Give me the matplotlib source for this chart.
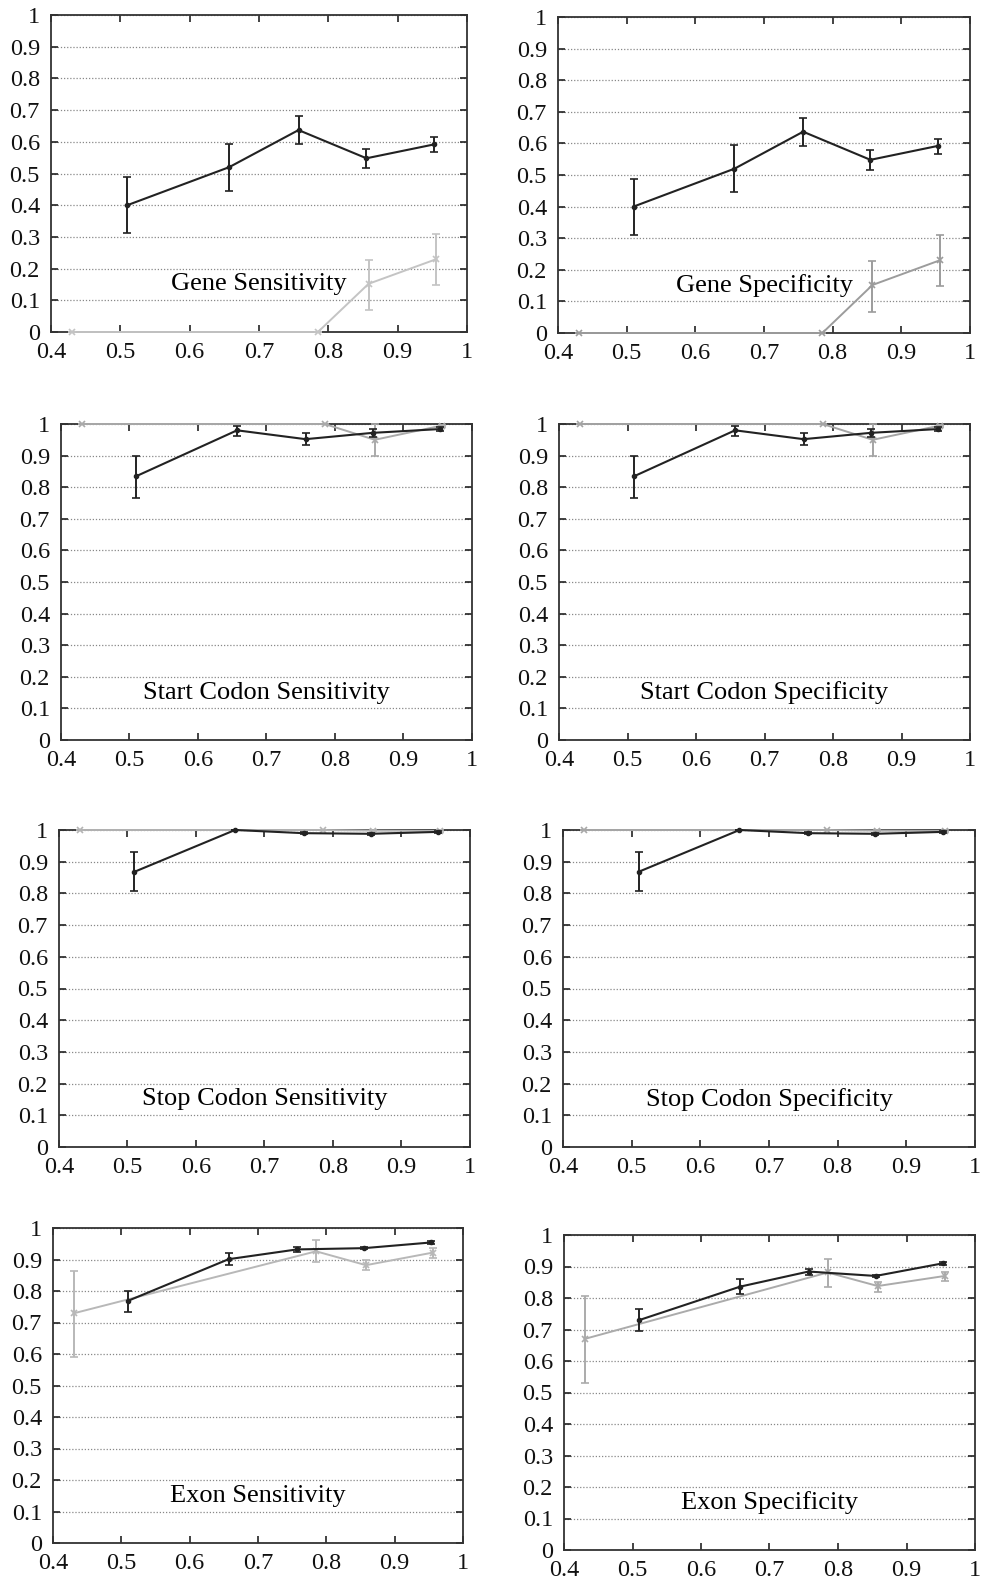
import matplotlib
matplotlib.use("Agg")
import matplotlib.pyplot as plt
from matplotlib.ticker import FuncFormatter

plt.rcParams['font.family'] = ['Liberation Serif', 'DejaVu Serif']

# x positions of the two series
x_black = [0.51, 0.657, 0.757, 0.855, 0.953]
x_gray = [0.43, 0.785, 0.858, 0.956]

# gene level
gene_black = [0.400, 0.520, 0.637, 0.548, 0.592]
gene_black_lo = [0.311, 0.445, 0.593, 0.516, 0.568]
gene_black_hi = [0.488, 0.594, 0.681, 0.578, 0.614]
gene_gray = [0.0, 0.0, 0.152, 0.230]
gene_gray_lo = [0.0, 0.0, 0.068, 0.148]
gene_gray_hi = [0.0, 0.0, 0.228, 0.310]

# start codon
start_black = [0.835, 0.980, 0.952, 0.972, 0.984]
start_black_lo = [0.765, 0.963, 0.932, 0.960, 0.978]
start_black_hi = [0.900, 0.993, 0.970, 0.985, 0.990]
start_gray = [1.0, 1.0, 0.950, 0.995]
start_gray_lo = [1.0, 1.0, 0.900, 0.992]
start_gray_hi = [1.0, 1.0, 1.000, 0.998]

# stop codon
stop_black = [0.868, 1.0, 0.990, 0.988, 0.994]
stop_black_lo = [0.807, 1.0, 0.986, 0.984, 0.991]
stop_black_hi = [0.930, 1.0, 0.994, 0.992, 0.997]
stop_gray = [1.0, 1.0, 0.998, 0.997]
stop_gray_lo = [1.0, 1.0, 0.996, 0.995]
stop_gray_hi = [1.0, 1.0, 1.0, 0.999]

# exon sensitivity
exsn_black = [0.769, 0.901, 0.932, 0.936, 0.954]
exsn_black_lo = [0.732, 0.884, 0.924, 0.932, 0.950]
exsn_black_hi = [0.800, 0.921, 0.940, 0.940, 0.958]
exsn_gray = [0.729, 0.926, 0.882, 0.922]
exsn_gray_lo = [0.591, 0.892, 0.866, 0.906]
exsn_gray_hi = [0.864, 0.961, 0.898, 0.935]

# exon specificity
exsp_black = [0.730, 0.836, 0.884, 0.870, 0.910]
exsp_black_lo = [0.696, 0.813, 0.873, 0.866, 0.906]
exsp_black_hi = [0.765, 0.859, 0.891, 0.874, 0.914]
exsp_gray = [0.670, 0.881, 0.838, 0.870]
exsp_gray_lo = [0.531, 0.836, 0.820, 0.855]
exsp_gray_hi = [0.805, 0.924, 0.852, 0.884]

panels = [
    ("Gene Sensitivity", (gene_black, gene_black_lo, gene_black_hi), (gene_gray, gene_gray_lo, gene_gray_hi)),
    ("Gene Specificity", (gene_black, gene_black_lo, gene_black_hi), (gene_gray, gene_gray_lo, gene_gray_hi)),
    ("Start Codon Sensitivity", (start_black, start_black_lo, start_black_hi), (start_gray, start_gray_lo, start_gray_hi)),
    ("Start Codon Specificity", (start_black, start_black_lo, start_black_hi), (start_gray, start_gray_lo, start_gray_hi)),
    ("Stop Codon Sensitivity", (stop_black, stop_black_lo, stop_black_hi), (stop_gray, stop_gray_lo, stop_gray_hi)),
    ("Stop Codon Specificity", (stop_black, stop_black_lo, stop_black_hi), (stop_gray, stop_gray_lo, stop_gray_hi)),
    ("Exon Sensitivity", (exsn_black, exsn_black_lo, exsn_black_hi), (exsn_gray, exsn_gray_lo, exsn_gray_hi)),
    ("Exon Specificity", (exsp_black, exsp_black_lo, exsp_black_hi), (exsp_gray, exsp_gray_lo, exsp_gray_hi)),
]

# axes boxes in pixels: left, top, right, bottom
boxes = [
    (51, 15, 467, 332), (558, 17, 970, 333),
    (61, 424, 472, 740), (559, 424, 970, 740),
    (59, 830, 470, 1147), (563, 830, 975, 1147),
    (53, 1228, 463, 1543), (564, 1235, 975, 1550),
]
gray_cols = ['#c4c4c4', '#9c9c9c', '#aaaaaa', '#a4a4a4', '#b4b4b4', '#a8a8a8', '#b8b8b8', '#ababab']

W, H = 983, 1582
fig = plt.figure(figsize=(W / 100, H / 100), dpi=100)

fmt = FuncFormatter(lambda v, p: ('%g' % round(v, 2)))

for (title, blk, gry), (l, t, r, b), gc in zip(panels, boxes, gray_cols):
    ax = fig.add_axes([l / W, 1 - b / H, (r - l) / W, (b - t) / H])
    ax.set_xlim(0.4, 1.0)
    ax.set_ylim(0, 1)
    ax.set_xticks([0.4, 0.5, 0.6, 0.7, 0.8, 0.9, 1.0])
    ax.set_yticks([i / 10 for i in range(11)])
    ax.xaxis.set_major_formatter(fmt)
    ax.yaxis.set_major_formatter(fmt)
    ax.tick_params(direction='in', length=5, width=1.2, top=True, right=True,
                   labelsize=17.5, color='#222222', labelcolor='#111111')
    ax.tick_params(axis='x', pad=7)
    ax.tick_params(axis='y', pad=8)
    for sp in ax.spines.values():
        sp.set_linewidth(1.3)
        sp.set_color('#333333')
    ax.yaxis.grid(True, linestyle=(0, (1, 1.5)), color='#888888', linewidth=0.9)
    ax.set_axisbelow(True)

    gy, glo, ghi = gry
    ax.errorbar(x_gray, gy,
                yerr=[[v - lo for v, lo in zip(gy, glo)], [hi - v for v, hi in zip(gy, ghi)]],
                color=gc, ecolor=gc, linewidth=1.4, elinewidth=1.4, capsize=3, capthick=1.2,
                marker='x', markersize=5, markeredgewidth=1.2, clip_on=False, zorder=4)
    by, blo, bhi = blk
    ax.errorbar(x_black, by,
                yerr=[[v - lo for v, lo in zip(by, blo)], [hi - v for v, hi in zip(by, bhi)]],
                color='#222222', ecolor='#222222', linewidth=1.5, elinewidth=1.4, capsize=3, capthick=1.2,
                marker='o', markersize=3, clip_on=False, zorder=5)

    ax.text(0.5, 0.15, title, transform=ax.transAxes, ha='center', va='center',
            fontsize=19, color='#000000')

fig.savefig("out.png", dpi=100)
